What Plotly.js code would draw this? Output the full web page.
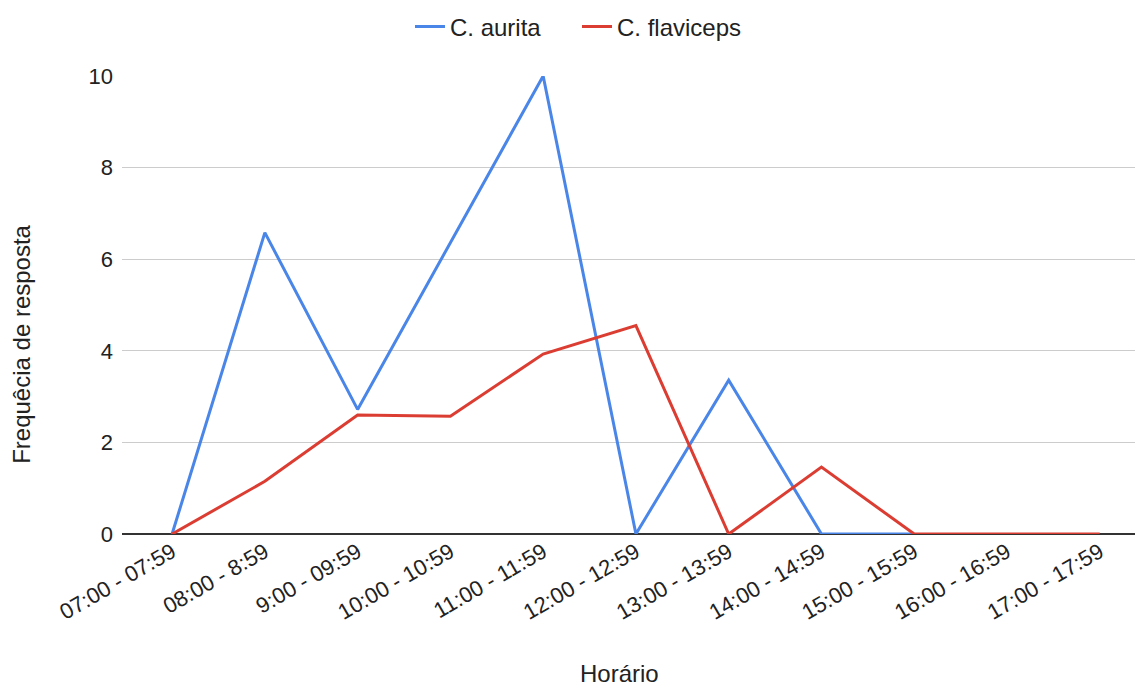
<!DOCTYPE html>
<html>
<head>
<meta charset="utf-8">
<script src="https://cdn.plot.ly/plotly-3.0.1.min.js"></script>
<style>html,body{margin:0;padding:0;background:#fff;}#chart{width:1135px;height:686px;}</style>
</head>
<body>
<div id="chart"></div>
<script>
const categories = ["07:00 - 07:59","08:00 - 8:59","9:00 - 09:59","10:00 - 10:59","11:00 - 11:59","12:00 - 12:59","13:00 - 13:59","14:00 - 14:59","15:00 - 15:59","16:00 - 16:59","17:00 - 17:59"];
const aurita = [0, 6.58, 2.72, 6.35, 10, 0, 3.36, 0, 0, null, null];
const flaviceps = [0, 1.15, 2.6, 2.57, 3.93, 4.55, 0, 1.46, 0, 0, 0];
const yTicks = [0, 2, 4, 6, 8, 10];
const xTitle = "Horário";
const yTitle = "Frequêcia de resposta";

const fam = "Liberation Sans, Arial, sans-serif";
const tickTxt = {family: fam, color: "#222", size: 22};
const bigTxt = {family: fam, color: "#222", size: 24};
const traces = [
  {x: categories, y: aurita, name: "C. aurita", type: "scatter", mode: "lines",
   line: {color: "#4a86e8", width: 3}, connectgaps: false},
  {x: categories, y: flaviceps, name: "C. flaviceps", type: "scatter", mode: "lines",
   line: {color: "#dc3d32", width: 3}}
];
const layout = {
  width: 1135, height: 686,
  margin: {l: 122, r: 0, t: 76, b: 152},
  paper_bgcolor: "#fff", plot_bgcolor: "#fff",
  font: tickTxt,
  showlegend: true,
  legend: {orientation: "h", x: 0.2843, xanchor: "left", y: 1.107, yanchor: "middle",
           font: bigTxt, itemwidth: 30, entrywidth: 122, entrywidthmode: "pixels"},
  xaxis: {type: "category", range: [-0.54, 10.38], tickangle: -30,
          showgrid: false, zeroline: false, showline: false, ticks: "",
          tickfont: tickTxt, automargin: false},
  yaxis: {range: [0, 10], tickvals: yTicks, ticktext: yTicks.map(String),
          showgrid: true, gridcolor: "#cccccc", gridwidth: 1.3,
          zeroline: true, zerolinecolor: "#333", zerolinewidth: 2,
          ticks: "", ticklabelstandoff: 8, tickfont: tickTxt, automargin: false},
  annotations: [
    {text: xTitle, xref: "paper", yref: "paper", x: 0.4916, y: -0.3035,
     xanchor: "center", yanchor: "middle", showarrow: false, font: bigTxt},
    {text: yTitle, xref: "paper", yref: "paper", x: -0.0987, y: 0.413,
     xanchor: "center", yanchor: "middle", showarrow: false, textangle: -90, font: bigTxt}
  ]
};
Plotly.newPlot("chart", traces, layout, {displayModeBar: false, staticPlot: true});
</script>
</body>
</html>
